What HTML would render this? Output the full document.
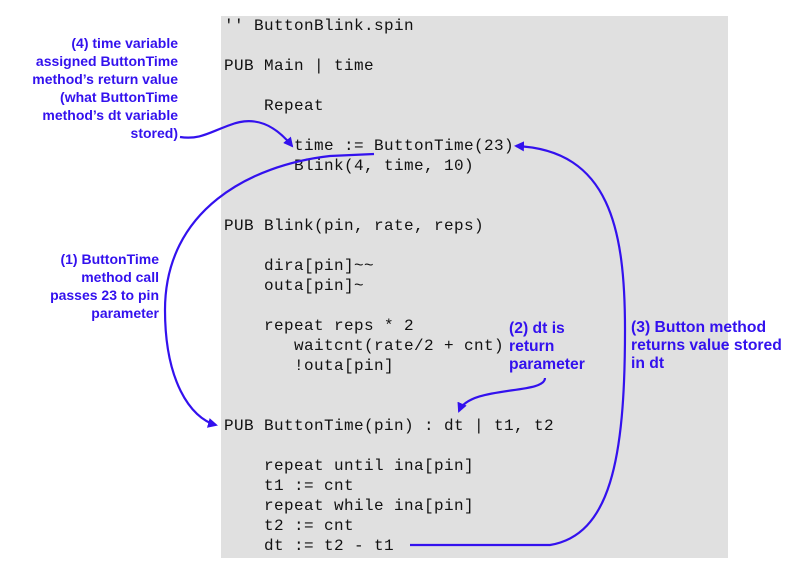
<!DOCTYPE html>
<html><head><style>
body{margin:0;width:796px;height:579px;background:#fff;position:relative;overflow:hidden;font-family:"Liberation Sans",sans-serif}
#box{position:absolute;left:221px;top:16px;width:507px;height:542px;background:#e0e0e0}
pre{position:absolute;left:224px;top:16px;margin:0;font-family:"Liberation Mono",monospace;font-size:16px;line-height:20px;letter-spacing:0.4px;color:#111}
.l{position:absolute;color:#3311ee;font-weight:bold;font-size:14px;line-height:18px}
.b{font-size:15.7px}
svg{position:absolute;left:0;top:0}
</style></head><body>
<div id="box"></div>
<pre>'' ButtonBlink.spin

PUB Main | time

    Repeat

       time := ButtonTime(23)
       Blink(4, time, 10)


PUB Blink(pin, rate, reps)

    dira[pin]~~
    outa[pin]~

    repeat reps * 2
       waitcnt(rate/2 + cnt)
       !outa[pin]


PUB ButtonTime(pin) : dt | t1, t2

    repeat until ina[pin]
    t1 := cnt
    repeat while ina[pin]
    t2 := cnt
    dt := t2 - t1</pre>
<div class="l" style="right:618px;top:34px;text-align:right">(4) time variable<br>assigned ButtonTime<br>method’s return value<br>(what ButtonTime<br>method’s dt variable<br>stored)</div>
<div class="l" style="right:637px;top:250px;text-align:right">(1) ButtonTime<br>method call<br>passes 23 to pin<br>parameter</div>
<div class="l b" style="left:509px;top:320px">(2) dt is<br>return<br>parameter</div>
<div class="l b" style="left:631px;top:319px">(3) Button method<br>returns value stored<br>in dt</div>
<svg width="796" height="579">
<defs><marker id="a" markerWidth="10" markerHeight="10" refX="8" refY="5" orient="auto" markerUnits="userSpaceOnUse"><path d="M0,0 L10,5 L0,10 z" fill="#3311ee"/></marker></defs>
<g fill="none" stroke="#3311ee" stroke-width="2.2">
<path d="M180,137 C200,140 210,132 230,125 C255,115 275,125 292,146" marker-end="url(#a)"/>
<path d="M374,154 L330,156 C250,165 165,210 165,310 C165,380 190,418 216,425" marker-end="url(#a)"/>
<path d="M545,378 C545,395 470,385 459,411" marker-end="url(#a)"/>
<path d="M410,545 L550,545 C610,535 625,460 625,330 C625,230 610,150 516,146" marker-end="url(#a)"/>
</g>
</svg>
</body></html>
